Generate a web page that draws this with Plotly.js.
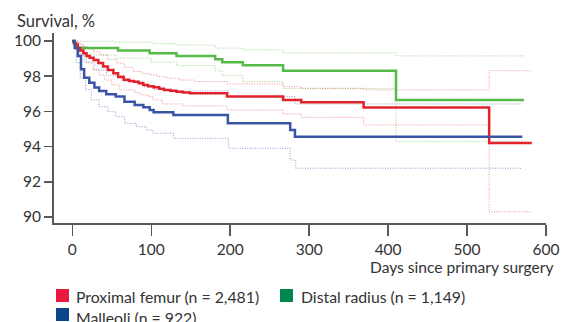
<!DOCTYPE html>
<html>
<head>
<meta charset="utf-8">
<script src="https://cdn.plot.ly/plotly-3.0.1.min.js"></script>
<style>
  html, body { margin: 0; padding: 0; background: #fff; }
  #chart { width: 569px; height: 322px; }
</style>
</head>
<body>
<div id="chart"></div>
<script>
// ---- Data ----
const seriesNames = ["Proximal femur (n = 2,481)", "Distal radius (n = 1,149)", "Malleoli (n = 922)"];

// Proximal femur
const femurDays  = [0, 2, 4, 7, 10, 14, 18, 22, 27, 33, 39, 45, 52, 58, 65, 72, 78, 84, 90, 96, 103, 110, 116, 124, 132, 140, 149, 196, 267, 290, 369, 528, 582];
const femurSurv  = [100, 99.9, 99.8, 99.6, 99.45, 99.3, 99.15, 99.05, 98.92, 98.75, 98.55, 98.35, 98.16, 97.95, 97.8, 97.72, 97.68, 97.6, 97.5, 97.42, 97.37, 97.28, 97.22, 97.17, 97.12, 97.07, 97.03, 96.84, 96.65, 96.52, 96.22, 94.2, 94.2];
const femurUpDays = [0, 5, 10, 14, 20, 27, 35, 45, 56, 66, 77, 88, 98, 108, 119, 136, 155, 196, 267, 290, 369, 528, 582];
const femurUp     = [100, 99.92, 99.8, 99.68, 99.55, 99.38, 99.2, 98.95, 98.73, 98.5, 98.26, 98.15, 98.07, 97.97, 97.88, 97.78, 97.69, 97.56, 97.4, 97.31, 97.22, 98.31, 98.31];
const femurLoDays = [0, 5, 10, 18, 26, 34, 41, 50, 60, 79, 86, 96, 102, 114, 140, 196, 267, 290, 369, 528, 582];
const femurLo     = [100, 99.6, 99.2, 98.75, 98.35, 98.05, 97.78, 97.5, 97.22, 97.06, 96.93, 96.84, 96.65, 96.42, 96.31, 96.08, 95.85, 95.66, 95.23, 90.3, 90.3];

// Distal radius
const radiusDays  = [0, 2, 5, 58, 98, 132, 181, 190, 216, 267, 410, 572];
const radiusSurv  = [100, 99.85, 99.6, 99.46, 99.3, 99.15, 98.96, 98.79, 98.62, 98.3, 96.65, 96.65];
const radiusUpDays = [0, 52, 102, 132, 181, 216, 267, 410, 572];
const radiusUp     = [99.98, 99.93, 99.85, 99.76, 99.59, 99.49, 99.32, 99.15, 99.15];
const radiusLoDays = [0, 4, 8, 55, 100, 132, 181, 190, 216, 267, 410, 572];
const radiusLo     = [100, 99.5, 99.2, 99.02, 98.8, 98.6, 98.31, 98.03, 97.69, 97.3, 94.28, 94.28];

// Malleoli
const malleoliDays = [0, 3, 7, 11, 15, 21.5, 28, 34, 43, 55, 66, 79, 90, 98, 103, 128, 197, 276, 282, 570];
const malleoliSurv = [100, 99.6, 99.15, 98.39, 97.91, 97.63, 97.35, 97.16, 96.97, 96.84, 96.55, 96.36, 96.23, 96.08, 95.95, 95.8, 95.32, 94.94, 94.56, 94.56];
const malleoliUpDays = [0, 7, 15, 28, 43, 66, 90, 102, 128, 198, 282, 570];
const malleoliUp     = [100, 99.7, 98.8, 98.35, 98.05, 97.7, 97.4, 97.25, 97.16, 96.84, 96.42, 96.42];
const malleoliLoDays = [0, 5, 10, 17, 24, 34, 45, 55, 66, 81, 94, 102, 128, 198, 276, 283, 570];
const malleoliLo     = [100, 98.77, 97.9, 97.22, 96.65, 96.27, 95.98, 95.7, 95.32, 95.13, 94.94, 94.76, 94.47, 93.9, 93.24, 92.77, 92.77];

const xTicks = [0, 100, 200, 300, 400, 500, 600];
const yTicks = [90, 92, 94, 96, 98, 100];

// ---- Styles ----
const mainColors = ["#e4222c", "#56ba48", "#3a54a5"];
const ciColors   = ["rgba(235,95,100,0.7)", "rgba(125,200,110,0.75)", "rgba(100,112,185,0.7)"];
const legendColors = ["#e8193d", "#00874d", "#0c468a"];
const FONT = "Lato, 'Open Sans', sans-serif";
const TXT = "#333333";

function ci(x, y, color) {
  return { x: x, y: y, type: "scatter", mode: "lines", showlegend: false, hoverinfo: "skip",
           line: { shape: "hv", color: color, width: 1, dash: "1px,1.5px" } };
}
function main(x, y, color, name) {
  return { x: x, y: y, type: "scatter", mode: "lines", name: name, showlegend: false,
           line: { shape: "hv", color: color, width: 2.5 } };
}

const traces = [
  ci(radiusUpDays, radiusUp, ciColors[1]), ci(radiusLoDays, radiusLo, ciColors[1]),
  ci(femurUpDays, femurUp, ciColors[0]), ci(femurLoDays, femurLo, ciColors[0]),
  ci(malleoliUpDays, malleoliUp, ciColors[2]), ci(malleoliLoDays, malleoliLo, ciColors[2]),
  main(radiusDays, radiusSurv, mainColors[1], seriesNames[1]),
  main(femurDays, femurSurv, mainColors[0], seriesNames[0]),
  main(malleoliDays, malleoliSurv, mainColors[2], seriesNames[2])
];

// plot area in pixels: left 54, right 546, top 33, bottom 223
const L = 54, R = 546, T = 33, B = 223;
const px = v => (v - L) / (R - L);
const py = v => (B - v) / (B - T);

function sq(x, y, color) {
  return { type: "rect", xref: "paper", yref: "paper",
           x0: px(x), x1: px(x + 13), y0: py(y + 13), y1: py(y),
           fillcolor: color, line: { width: 0 } };
}
function label(text, x, y, anchor, size) {
  return { text: text, xref: "paper", yref: "paper", x: px(x), y: py(y),
           xanchor: anchor || "left", yanchor: "middle", showarrow: false,
           font: { family: FONT, size: size || 16, color: TXT } };
}

const layout = {
  width: 569, height: 322,
  margin: { l: L, r: 569 - R, t: T, b: 322 - B, pad: 0 },
  paper_bgcolor: "#ffffff", plot_bgcolor: "#ffffff",
  font: { family: FONT, size: 15, color: TXT },
  showlegend: false,
  xaxis: {
    range: [-23.2, 600], tickvals: xTicks, ticks: "outside", ticklen: 11, tickwidth: 1.5,
    tickcolor: "#595959", showline: true, linecolor: "#595959", linewidth: 2,
    showgrid: false, zeroline: false, tickfont: { family: FONT, size: 15.5, color: TXT }
  },
  yaxis: {
    range: [89.66, 100.45], tickvals: yTicks, ticks: "outside", ticklen: 8, tickwidth: 1.5,
    tickcolor: "#595959", showline: true, linecolor: "#595959", linewidth: 2,
    showgrid: false, zeroline: false, tickfont: { family: FONT, size: 15.5, color: TXT }
  },
  shapes: [
    sq(56, 289, legendColors[0]),
    sq(280, 289, legendColors[1]),
    sq(56, 308, legendColors[2])
  ],
  annotations: [
    label("Survival, %", 15, 21, "left", 16.5),
    label("Days since primary surgery", 556, 267, "right", 15.6),
    label(seriesNames[0], 74, 296.5, "left", 15.8),
    label(seriesNames[1], 299, 296.5, "left", 15.8),
    label(seriesNames[2], 74, 317, "left", 15.8)
  ]
};

Plotly.newPlot("chart", traces, layout, { staticPlot: true, displayModeBar: false });
</script>
</body>
</html>
